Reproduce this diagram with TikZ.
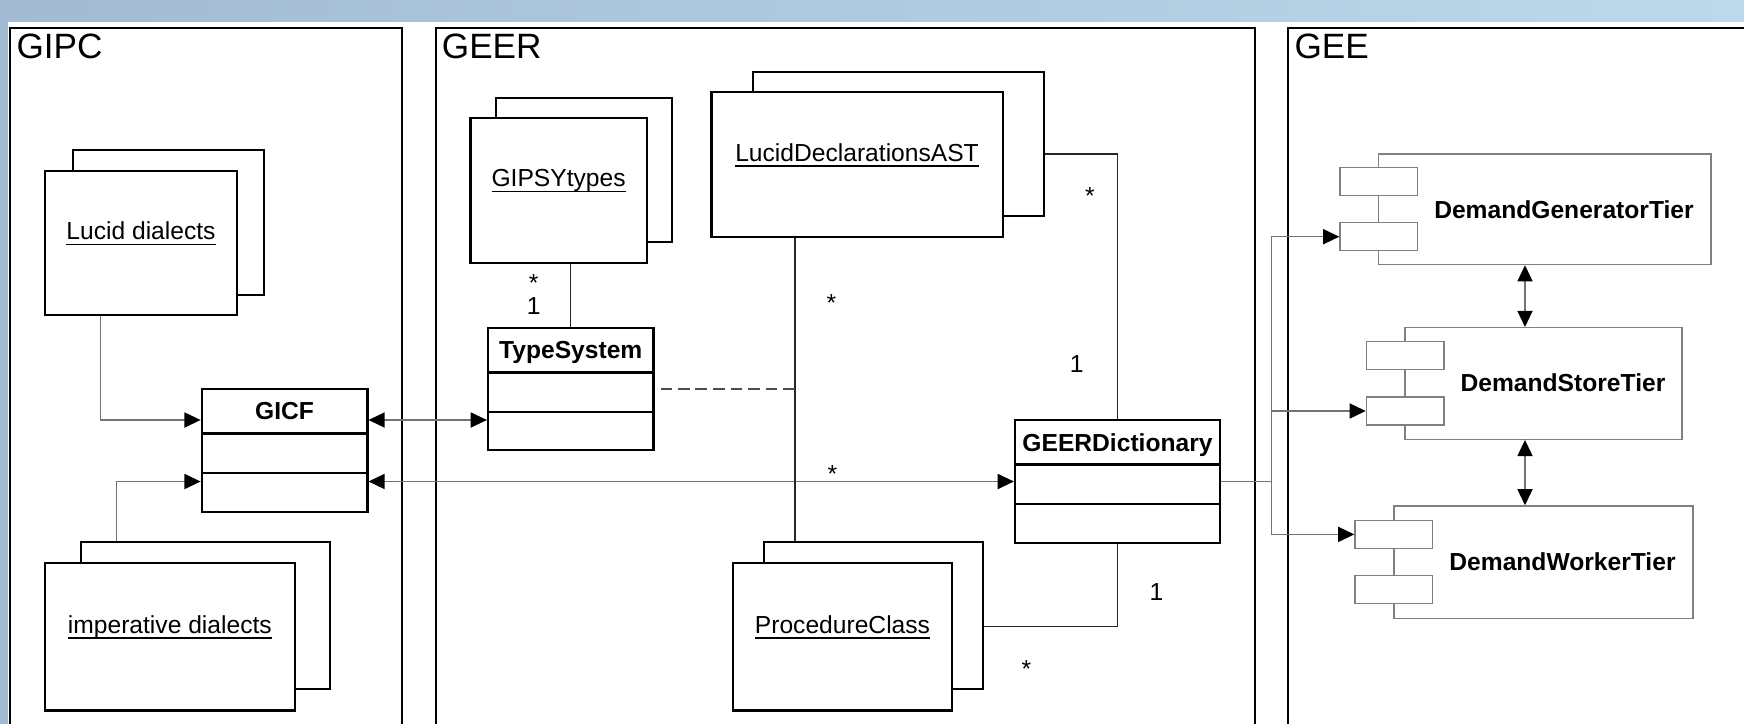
\documentclass[tikz,border=0pt]{standalone}
\usepackage{fontspec}
\setmainfont{Liberation Sans}
\usetikzlibrary{arrows.meta,calc}
\definecolor{bandL}{RGB}{162,187,211}
\definecolor{bandR}{RGB}{188,216,234}
\newcommand\mkbox[7]{%
  \pgfmathsetmacro\mkcx{(#2+#4)/2}\pgfmathsetmacro\mkcy{(#3+#5)/2}%
  \pgfmathsetmacro\mkw{(#4-#2)/100}\pgfmathsetmacro\mkh{(#5-#3)/100}%
  \node[#6, minimum width=\mkw cm, minimum height=\mkh cm] (#1) at (\mkcx,\mkcy) {#7};}
\newcommand\stk[1]{\raisebox{0.035cm}[0pt][0pt]{\underline{\smash{#1}}}}
\begin{document}
\begin{tikzpicture}[x=0.01cm,y=-0.01cm,
  frame/.style={draw=black,line width=0.6pt,inner sep=0},
  title/.style={font=\fontsize{10}{12}\selectfont,anchor=north west,inner sep=0},
  stackbox/.style={draw=black,line width=0.6pt,fill=white,inner sep=0,font=\fontsize{7}{8.4}\selectfont},
  cls/.style={draw=black,line width=0.6pt,fill=white,inner sep=0},
  clshead/.style={cls,font=\bfseries\fontsize{7}{8.4}\selectfont,text height=5pt,text depth=0pt},
  comp/.style={draw=black!50,line width=0.4pt,fill=white,inner sep=0},
  comptext/.style={font=\bfseries\fontsize{7}{8.4}\selectfont,inner sep=0,text height=5pt,text depth=0pt},
  mult/.style={font=\fontsize{7}{8.4}\selectfont,inner sep=0,anchor=base},
  assoc/.style={draw=black!85,line width=0.4pt},
  conn/.style={draw=black!55,line width=0.4pt},
  dashc/.style={draw=black!70,line width=0.6pt,dash pattern=on 3.3pt off 1.7pt},
  arr/.style={conn,-{Triangle[length=4.6pt,width=4.3pt,black]}},
  darr/.style={conn,{Triangle[length=4.6pt,width=4.3pt,black]}-{Triangle[length=4.6pt,width=4.3pt,black]}},
]
\path[use as bounding box] (0,0) rectangle (1744,724);
\clip (0,0) rectangle (1744,724);
\fill[white] (0,0) rectangle (1744,724);
\shade[left color=bandL,right color=bandR] (0,0) rectangle (1744,21.7);
\fill[bandL] (0,0) rectangle (8.4,724);

% frames
\mkbox{gipcF}{10.5}{28}{401.5}{780}{frame}{}
\mkbox{geerF}{436}{28}{1254.5}{780}{frame}{}
\mkbox{geeF}{1288.5}{28}{1800}{780}{frame}{}
\node[title] (gipcT) at ($(gipcF.north west)+(6.5,7)$) {GIPC};
\node[title] (geerT) at ($(geerF.north west)+(6.5,7)$) {GEER};
\node[title] (geeT) at ($(geeF.north west)+(6.5,7)$) {GEE};

% stacked instance boxes
\mkbox{lucidB}{73}{150}{264}{295}{stackbox}{}
\mkbox{lucid}{45}{171}{237}{315}{stackbox}{\stk{Lucid dialects}}
\mkbox{impB}{80.7}{542}{330}{688.6}{stackbox}{}
\mkbox{imp}{45}{563}{294.7}{710.5}{stackbox}{\stk{imperative dialects}}
\mkbox{gipsyB}{495.8}{97.7}{671.8}{242}{stackbox}{}
\mkbox{gipsy}{470.5}{117.7}{646.6}{262.7}{stackbox}{\stk{GIPSYtypes}}
\mkbox{ldastB}{753}{71.7}{1043.5}{216}{stackbox}{}
\mkbox{ldast}{711.6}{92.3}{1002.5}{236.7}{stackbox}{\stk{LucidDeclarationsAST}}
\mkbox{procB}{764.4}{542.3}{983.3}{688.6}{stackbox}{}
\mkbox{proc}{733}{563}{952}{710.5}{stackbox}{\stk{ProcedureClass}}

% classes
\mkbox{gicf}{201.7}{388.6}{367.4}{433.5}{clshead}{GICF}
\mkbox{gicf2}{201.7}{433.5}{367.4}{473}{cls}{}
\mkbox{gicf3}{201.7}{473}{367.4}{512.3}{cls}{}
\mkbox{ts}{488}{327.7}{653.5}{372.5}{clshead}{TypeSystem}
\mkbox{ts2}{488}{372.5}{653.5}{411.6}{cls}{}
\mkbox{ts3}{488}{411.6}{653.5}{450.3}{cls}{}
\mkbox{dict}{1015}{420}{1220}{464.5}{clshead}{GEERDictionary}
\mkbox{dict2}{1015}{464.5}{1220}{504.3}{cls}{}
\mkbox{dict3}{1015}{504.3}{1220}{543}{cls}{}

% components
\mkbox{dgt}{1378.5}{154}{1711}{264.5}{comp}{}
\mkbox{dgtP1}{1340}{167.7}{1417.5}{195.7}{comp}{}
\mkbox{dgtP2}{1340}{222.7}{1417.5}{250.7}{comp}{}
\node[comptext] (dgtL) at (1564,209.5) {DemandGeneratorTier};
\mkbox{dst}{1405}{327.7}{1682}{439.2}{comp}{}
\mkbox{dstP1}{1366.5}{341.7}{1444}{369.4}{comp}{}
\mkbox{dstP2}{1366.5}{397}{1444}{425}{comp}{}
\node[comptext] (dstL) at (1563,383) {DemandStoreTier};
\mkbox{dwt}{1394}{506}{1693}{618.2}{comp}{}
\mkbox{dwtP1}{1355}{520.4}{1432.5}{548.4}{comp}{}
\mkbox{dwtP2}{1355}{575.7}{1432.5}{603.7}{comp}{}
\node[comptext] (dwtL) at (1562.5,561.5) {DemandWorkerTier};

% helper coordinates
\coordinate (yA) at (0,420);
\coordinate (yB) at (0,481.5);
\coordinate (yD) at (0,389.3);
\coordinate (yL) at (0,154);
\coordinate (yP) at (0,626.3);
\coordinate (xL) at (795,0);
\coordinate (xB) at (1271.5,0);
\coordinate (xV) at (1525,0);
\coordinate (xLu) at (100.6,0);
\coordinate (xIm) at (116.7,0);

% connectors
\draw[arr] (lucid.south -| xLu) |- (gicf.west |- yA);
\draw[arr] (impB.north -| xIm) |- (gicf3.west |- yB);
\draw[darr] (gicf.east |- yA) -- (ts3.west |- yA);
\draw[darr] (gicf3.east |- yB) -- (dict2.west |- yB);
\draw[assoc] (gipsy.south -| ts.north) -- (ts.north);
\draw[assoc] (ldast.south -| xL) -- (procB.north -| xL);
\draw[dashc, shorten >=0.065cm] (xL |- yD) -- (ts2.east |- yD);
\draw[assoc] (ldastB.east |- yL) -| (dict.north);
\draw[assoc] (dict3.south) |- (procB.east |- yP);
\draw[conn] (dict2.east |- yB) -- (xB |- yB);
\draw[arr] (xB |- yB) |- (dgtP2.west);
\draw[arr] (xB |- yB) |- (dstP2.west);
\draw[arr] (xB |- yB) |- (dwtP1.west);
\draw[darr] (dgt.south -| xV) -- (dst.north -| xV);
\draw[darr] (dst.south -| xV) -- (dwt.north -| xV);

% multiplicities
\node[mult] (m1) at (533.7,291) {*};
\node[mult] (m2) at (533.7,314.8) {1};
\node[mult] (m3) at (831.4,311.7) {*};
\node[mult] (m4) at (832.5,482.5) {*};
\node[mult] (m5) at (1090,204.7) {*};
\node[mult] (m6) at (1076.6,372.5) {1};
\node[mult] (m7) at (1156.5,600.8) {1};
\node[mult] (m8) at (1026.5,677) {*};
\end{tikzpicture}
\end{document}
